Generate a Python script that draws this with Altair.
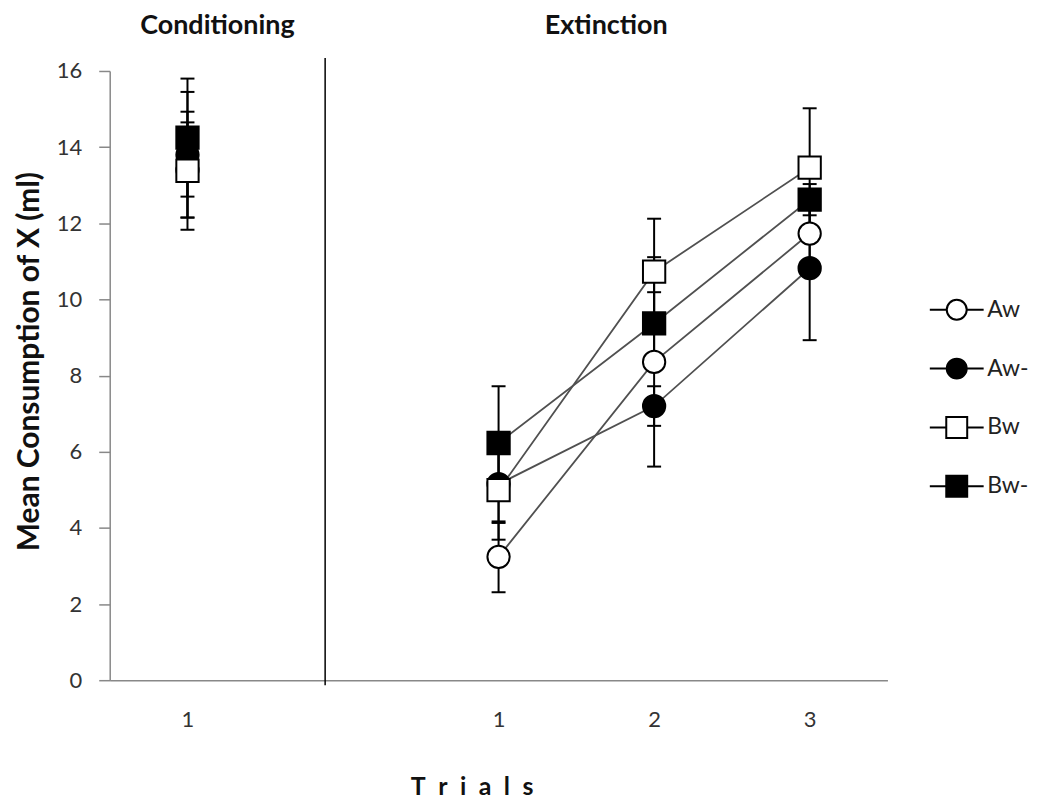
import altair as alt
import pandas as pd

# ---------------- data ----------------
series = ["Aw", "Aw-", "Bw", "Bw-"]
phases = ["Conditioning", "Extinction", "Extinction", "Extinction"]
trials = [1, 1, 2, 3]
tick_labels = ["1", "1", "2", "3"]

mean_aw = [13.40, 3.24, 8.36, 11.73]
mean_awm = [13.80, 5.15, 7.20, 10.82]
mean_bw = [13.38, 4.99, 10.73, 13.46]
mean_bwm = [14.25, 6.23, 9.37, 12.62]

err_aw = [1.25, 0.93, 2.75, 0.90]
err_awm = [1.65, 1.02, 0.52, 1.89]
err_bw = [1.55, 1.30, 1.39, 1.56]
err_bwm = [1.55, 1.49, 0.82, 0.41]

phase_titles = ["Conditioning", "Extinction"]
x_title = "T\u2002r\u2002i\u2002a\u2002l\u2002s"
y_title = "Mean Consumption of X (ml)"

# ---------------- build table ----------------
means = [mean_aw, mean_awm, mean_bw, mean_bwm]
errs = [err_aw, err_awm, err_bw, err_bwm]

# category slots: conditioning trial, an empty slot, then extinction trials
slots = [0 if p == "Conditioning" else t + 1 for p, t in zip(phases, trials)]
divider = 0.885
x_min, x_max = -0.5, 4.5

rows = []
for si, s in enumerate(series):
    for j in range(len(phases)):
        m = means[si][j]
        e = errs[si][j]
        rows.append({"series": s, "idx": si, "phase": phases[j], "trial": trials[j],
                     "slot": slots[j], "mean": m, "lo": m - e, "hi": m + e})
df = pd.DataFrame(rows)

title_df = pd.DataFrame({
    "label": phase_titles,
    "xc": [(x_min + divider) / 2, (divider + x_max) / 2],
})

label_expr = " : ".join(
    [f"datum.value == {s} ? '{l}'" for s, l in zip(slots[:-1], tick_labels[:-1])]
    + [f"'{tick_labels[-1]}'"]
)

FONT = "Lato"
x_axis = alt.Axis(values=slots, labelExpr=label_expr, ticks=False, grid=False,
                  domainColor="#888888", domainWidth=1.5,
                  labelFont=FONT, labelFontSize=22, labelColor="#333333", labelPadding=29,
                  title=x_title, titleFont=FONT, titleFontSize=25, titleFontWeight="bold",
                  titleColor="#111111", titlePadding=45, titleX=363, titleAlign="center")
y_axis = alt.Axis(values=list(range(0, 17, 2)), grid=False, tickSize=11, tickColor="#888888",
                  tickWidth=1.5, domainColor="#888888", domainWidth=1.5,
                  labelFont=FONT, labelFontSize=22, labelColor="#333333", labelPadding=17,
                  title=y_title, titleFont=FONT, titleFontSize=30,
                  titleFontWeight="bold", titleColor="#111111", titlePadding=12,
                  titleY=291, titleAlign="center")

xs = alt.Scale(domain=[x_min, x_max], nice=False, zero=False)
ys = alt.Scale(domain=[0, 16], nice=False, zero=True)

X = alt.X("slot:Q", scale=xs, axis=x_axis)

base = alt.Chart(df)

divider_rule = alt.Chart(pd.DataFrame({"d": [divider]})).mark_rule(
    color="black", strokeWidth=1.5
).encode(
    x=alt.X("d:Q", scale=xs, axis=x_axis),
    y=alt.value(-13),
    y2=alt.value(616),
)

err_rules = base.mark_rule(color="black", strokeWidth=2).encode(
    x=X,
    y=alt.Y("lo:Q", scale=ys, axis=y_axis),
    y2="hi:Q",
)

caps = base.transform_fold(["lo", "hi"], as_=["k", "v"]).mark_tick(
    color="black", thickness=2, size=14, orient="horizontal", opacity=1
).encode(
    x=X,
    y=alt.Y("v:Q", scale=ys, axis=y_axis),
)

lines = base.transform_filter(alt.datum.phase == "Extinction").mark_line(
    color="#505050", strokeWidth=1.8
).encode(
    x=X,
    y=alt.Y("mean:Q", scale=ys, axis=y_axis),
    detail="series:N",
    order="trial:Q",
)

points = base.mark_point(filled=True, stroke="black", strokeWidth=2, opacity=1, size=500).encode(
    x=X,
    y=alt.Y("mean:Q", scale=ys, axis=y_axis),
    shape=alt.Shape("series:N", scale=alt.Scale(domain=series, range=["circle", "circle", "square", "square"]), legend=None),
    fill=alt.Fill("series:N", scale=alt.Scale(domain=series, range=["white", "black", "white", "black"]), legend=None),
    order=alt.Order("idx:Q"),
)

circ = "M-2.7,0H-1M1,0H2.7M-1,0A1,1,0,1,1,1,0A1,1,0,1,1,-1,0Z"
sq = "M-2.7,0H-1.05M1.05,0H2.7M-1.05,-1.05H1.05V1.05H-1.05Z"
legend_def = alt.Legend(orient="none", legendX=838, legendY=228, title=None,
                        symbolSize=400, symbolStrokeWidth=2, symbolStrokeColor="black",
                        labelFont=FONT, labelFontSize=23, labelColor="#222222",
                        labelOffset=19, rowPadding=30, symbolOpacity=1)
legend_layer = base.transform_filter("false").mark_point(
    filled=True, stroke="black", strokeWidth=2, opacity=1
).encode(
    x=X,
    y=alt.Y("mean:Q", scale=ys, axis=y_axis),
    shape=alt.Shape("series:N", scale=alt.Scale(domain=series, range=[circ, circ, sq, sq]), legend=legend_def),
    fill=alt.Fill("series:N", scale=alt.Scale(domain=series, range=["white", "black", "white", "black"]), legend=legend_def),
    stroke=alt.Stroke("series:N", scale=alt.Scale(domain=series, range=["black"] * 4), legend=legend_def),
)

titles = alt.Chart(title_df).mark_text(
    font=FONT, fontSize=27, fontWeight="bold", color="#111111", baseline="middle", align="center"
).encode(
    x=alt.X("xc:Q", scale=xs, axis=x_axis),
    y=alt.value(-45),
    text="label:N",
)

chart = alt.layer(
    divider_rule, err_rules, caps, lines, points, legend_layer, titles
).resolve_scale(
    shape="independent", fill="independent", stroke="independent"
).properties(
    width=780, height=611,
    autosize=alt.AutoSizeParams(type="none"),
    padding={"left": 102, "top": 62, "right": 150, "bottom": 122},
    background="white",
).configure_view(stroke=None)

chart.save("out.html", embed_options={"renderer": "svg", "actions": False})
